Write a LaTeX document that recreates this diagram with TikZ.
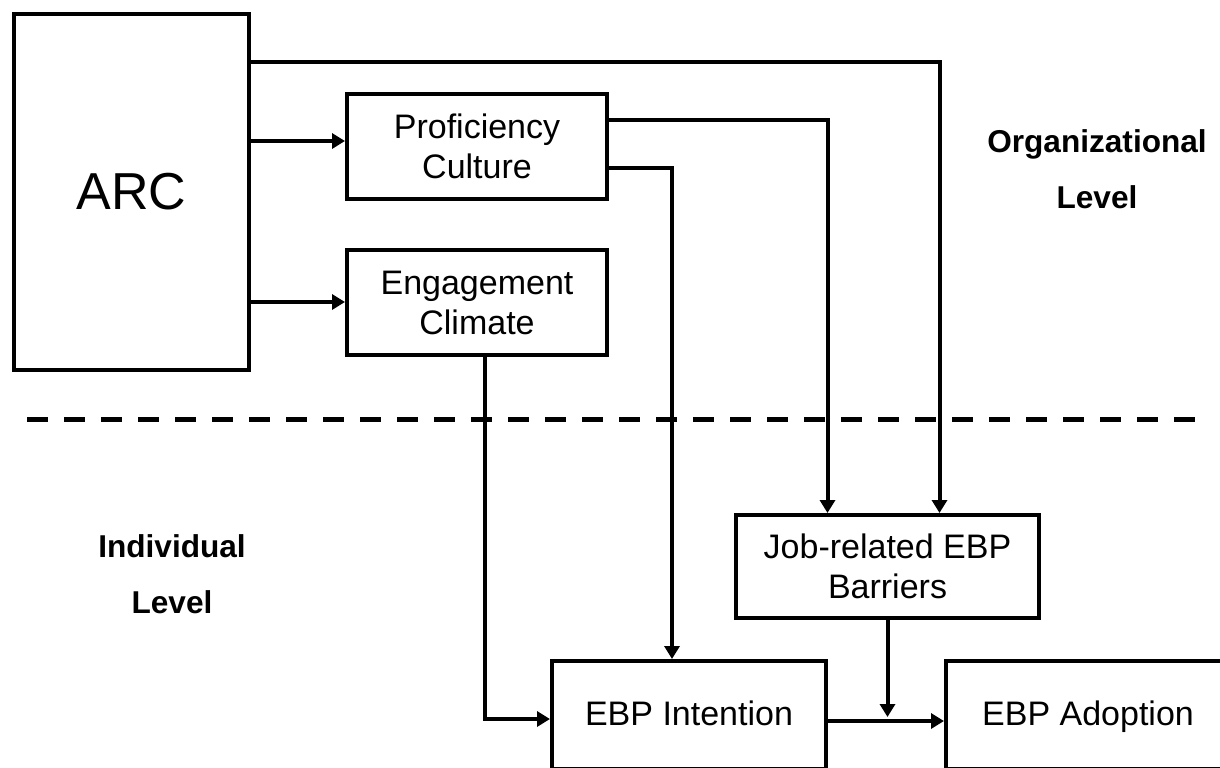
\documentclass[tikz,border=0pt]{standalone}
\usepackage{fontspec}
\setmainfont{Liberation Sans}
\usepackage{tikz}
\usetikzlibrary{arrows.meta, positioning}
\tikzstyle{arrow} = [line width=2pt, -{Triangle[length=6.5pt,width=7.5pt]}]
\tikzset{box/.style={draw, line width=2pt, align=center, inner sep=0pt, font=\fontsize{17}{20}\selectfont},
  level/.style={align=center, font=\bfseries\fontsize{15.8}{28}\selectfont}}

\begin{document}
\begin{tikzpicture}[x=0.5pt, y=-0.5pt]
        % Fix the page to the picture's size
        \useasboundingbox (0,0) rectangle (1220,767);
        \clip (0,0) rectangle (1220,767);

        % Organizational level boxes
        \node[box, minimum width=117.5pt, minimum height=178pt, font=\fontsize{26}{30}\selectfont] (arc) at (131.5,192) {ARC};
        \node[box, minimum width=130pt, minimum height=52.5pt] (prof) at (477,146.5) {Proficiency\\Culture};
        \node[box, minimum width=130pt, minimum height=52.5pt] (eng) at (477,302.5) {Engagement\\Climate};

        % Individual level boxes
        \node[box, minimum width=151.5pt, minimum height=51.5pt] (job) at (887.5,566.5) {Job-related EBP\\Barriers};
        \node[box, minimum width=137pt, minimum height=54pt, text height=12.2pt, text depth=2.2pt] (intent) at (689,715) {EBP Intention};
        \node[box, minimum width=142pt, minimum height=54pt, text height=12.2pt, text depth=2.2pt] (adopt) at (1088,715) {EBP Adoption};

        % Level labels and the dividing line
        \node[level] (org) at (1097,169) {Organizational\\Level};
        \node[level] (ind) at (172,574) {Individual\\Level};
        \draw[line width=2.5pt, dash pattern=on 10.5pt off 8pt] (27,419) -- (1205,419);

        % Connectors
        \draw[arrow] (arc.east |- 0,141) -- (prof.west |- 0,141);
        \draw[arrow] (arc.east |- 0,302) -- (eng.west |- 0,302);
        \draw[arrow] (arc.east |- 0,62) -| ([xshift=26pt]job.north);
        \draw[arrow] (prof.east |- 0,120) -| ([xshift=-30pt]job.north);
        \draw[arrow] (prof.east |- 0,168) -| ([xshift=-8.5pt]intent.north);
        \draw[arrow] ([xshift=4pt]eng.south) |- ([yshift=-2pt]intent.west);
        \draw[arrow] ([yshift=-3pt]intent.east) -- ([yshift=-3pt]adopt.west);
        \draw[arrow] (job.south) -- ([yshift=-1pt]job.south |- intent.east);
\end{tikzpicture}
\end{document}
